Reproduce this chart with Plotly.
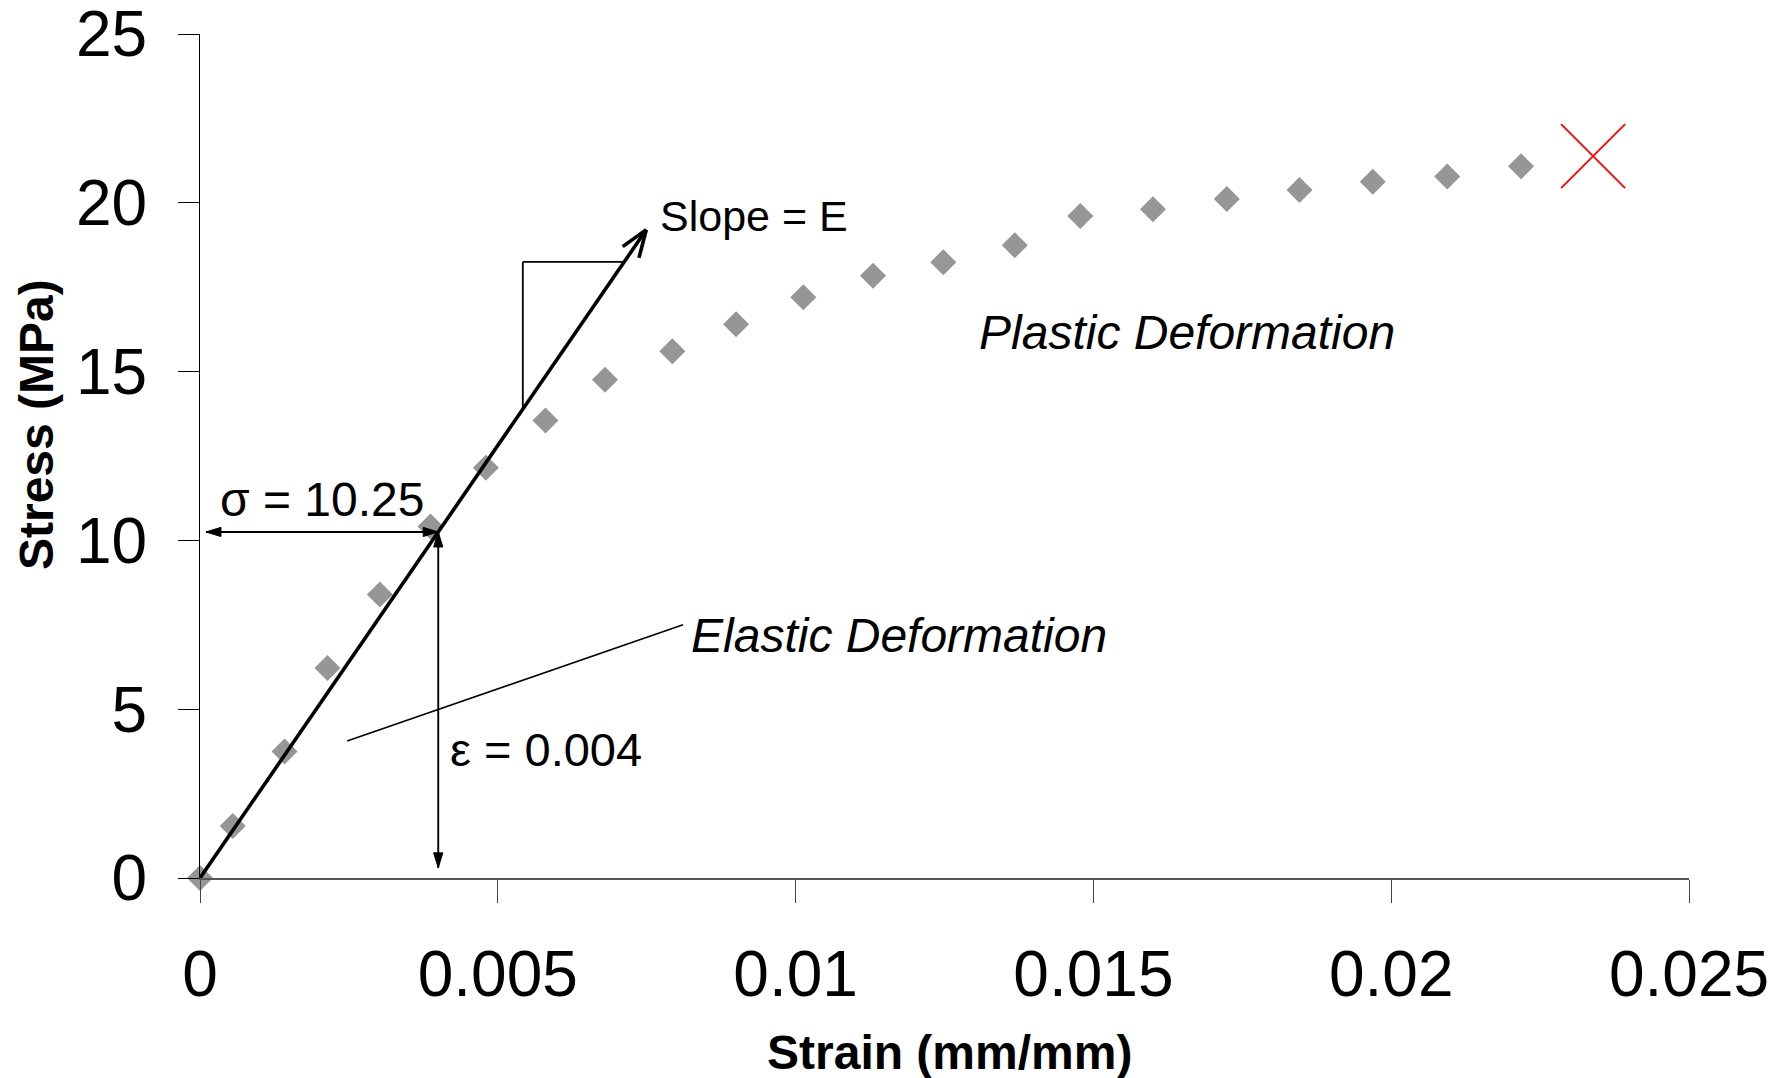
import math
import plotly.graph_objects as go

# ---- data -------------------------------------------------------------
strain = [0.0, 0.00055, 0.00142, 0.00214, 0.00302, 0.00387, 0.0048, 0.0058,
          0.0068, 0.00793, 0.0090, 0.01013, 0.0113, 0.01248, 0.01368, 0.01478,
          0.0160, 0.01724, 0.01846, 0.01969, 0.02094, 0.02218]
stress = [0.0, 1.54, 3.75, 6.22, 8.40, 10.41, 12.15, 13.55, 14.76, 15.6,
          16.4, 17.2, 17.84, 18.24, 18.74, 19.61, 19.81, 20.11, 20.38, 20.62,
          20.78, 21.08]
fracture_strain = [0.02339]
fracture_stress = [21.38]

x_ticks = [0, 0.005, 0.01, 0.015, 0.02, 0.025]
x_ticktext = ["0", "0.005", "0.01", "0.015", "0.02", "0.025"]
y_ticks = [0, 5, 10, 15, 20, 25]

eps_point = 0.004      # strain read at the marked point
sigma_point = 10.25    # stress read at the marked point
modulus = sigma_point / eps_point

# ---- layout geometry ----------------------------------------------------
W, H = 1771, 1078
M = dict(l=200, r=82, t=34, b=200)
X_MAX, Y_MAX = 0.025, 25
plot_w = W - M["l"] - M["r"]
plot_h = H - M["t"] - M["b"]
px_x = plot_w / X_MAX
px_y = plot_h / Y_MAX

FONT = "Liberation Sans, Arial, Helvetica, sans-serif"

fig = go.Figure()

fig.add_trace(go.Scatter(
    x=strain, y=stress, mode="markers",
    marker=dict(symbol="diamond", size=20, color="#969696"),
    cliponaxis=False, showlegend=False, hoverinfo="skip"))

fig.add_trace(go.Scatter(
    x=fracture_strain, y=fracture_stress, mode="markers",
    marker=dict(symbol="x-thin", size=64, color="red",
                line=dict(color="red", width=1.8)),
    cliponaxis=False, showlegend=False, hoverinfo="skip"))


def unit_px(x0, y0, x1, y1):
    """Unit direction from (x0, y0) to (x1, y1) measured in screen pixels."""
    dx, dy = (x1 - x0) * px_x, (y1 - y0) * px_y
    n = math.hypot(dx, dy)
    return dx / n, dy / n


def offset(x, y, ux, uy, dist, side=0.0):
    """Point moved `dist` px along (ux, uy) and `side` px across it."""
    px, py = ux * dist - uy * side, uy * dist + ux * side
    return x + px / px_x, y + py / px_y


def line(x0, y0, x1, y1, width, color="black"):
    fig.add_shape(type="line", xref="x", yref="y", x0=x0, y0=y0, x1=x1,
                  y1=y1, line=dict(color=color, width=width))


def solid_head(xt, yt, ux, uy, length=15, half=4.6):
    """Filled triangular arrow head with its tip at (xt, yt)."""
    bx, by = offset(xt, yt, ux, uy, -length)
    p1 = offset(bx, by, ux, uy, 0, half)
    p2 = offset(bx, by, ux, uy, 0, -half)
    fig.add_shape(type="path", xref="x", yref="y",
                  path=f"M{xt},{yt} L{p1[0]},{p1[1]} L{p2[0]},{p2[1]} Z",
                  fillcolor="black", line=dict(color="black", width=1))


def double_arrow(xa, ya, xb, yb):
    ux, uy = unit_px(xa, ya, xb, yb)
    line(xa, ya, xb, yb, 1.9)
    solid_head(xb, yb, ux, uy)
    solid_head(xa, ya, -ux, -uy)


# ---- modulus line with open arrow head -----------------------------------
tip_stress = 19.2
tip_strain = tip_stress / modulus
line(0, 0, tip_strain, tip_stress, 3.6)
ux, uy = unit_px(0, 0, tip_strain, tip_stress)
head_len, head_ang = 29, math.radians(20)
for s in (1, -1):
    c, sn = math.cos(s * head_ang), math.sin(s * head_ang)
    rx, ry = -ux * c + uy * sn, -ux * sn - uy * c
    line(tip_strain, tip_stress,
         tip_strain + head_len * rx / px_x, tip_stress + head_len * ry / px_y,
         3.6)

# slope triangle
tri_x = 0.00542
tri_top = 18.25
line(tri_x, modulus * tri_x, tri_x, tri_top, 1.8)
line(tri_x, tri_top, tri_top / modulus, tri_top, 1.8)

# leader line to the elastic label
line(0.00247, 4.06, 0.00811, 7.5, 1.6)

# ---- double arrows for sigma and epsilon --------------------------------
double_arrow(0.0001, sigma_point, eps_point, sigma_point)
double_arrow(eps_point, 0.3, eps_point, sigma_point)

# ---- text labels ---------------------------------------------------------
def label(x, y, text, size, italic=False):
    fig.add_annotation(x=x, y=y, xref="x", yref="y", text=text,
                       showarrow=False, xanchor="left", yanchor="middle",
                       font=dict(family=FONT, size=size, color="black",
                                 style="italic" if italic else "normal"))

label(tip_strain + 0.0002, 19.6, "Slope = E", 43)
label(0.0003, 11.2, "σ = 10.25", 48)
label(0.00416, 3.82, "ε = 0.004", 47)
label(0.00821, 7.17, "Elastic Deformation", 48, italic=True)
label(0.01305, 16.17, "Plastic Deformation", 48, italic=True)

# axis titles
fig.add_annotation(x=(949 - M["l"]) / plot_w, y=(H - M["b"] - 1052) / plot_h,
                   xref="paper", yref="paper",
                   text="<b>Strain (mm/mm)</b>", showarrow=False,
                   xanchor="center", yanchor="middle",
                   font=dict(family=FONT, size=48, color="black"))
fig.add_annotation(x=(36 - M["l"]) / plot_w, y=(H - M["b"] - 425) / plot_h,
                   xref="paper", yref="paper",
                   text="<b>Stress (MPa)</b>", showarrow=False, textangle=-90,
                   xanchor="center", yanchor="middle",
                   font=dict(family=FONT, size=48, color="black"))

fig.update_layout(
    width=W, height=H, margin=M,
    paper_bgcolor="white", plot_bgcolor="white",
    font=dict(family=FONT, color="black"),
    xaxis=dict(range=[0, X_MAX], tickvals=x_ticks, ticktext=x_ticktext,
               showgrid=False, zeroline=False, showline=True,
               linecolor="#555555", linewidth=2, ticks="outside",
               ticklen=23, tickwidth=1, tickcolor="#444444",
               ticklabelstandoff=16, ticklabeloverflow="allow",
               tickfont=dict(size=64), automargin=False),
    yaxis=dict(range=[0, Y_MAX], tickvals=y_ticks,
               showgrid=False, zeroline=False, showline=True,
               linecolor="black", linewidth=1.2, ticks="outside",
               ticklen=21, tickwidth=1, tickcolor="black",
               ticklabelstandoff=18, ticklabeloverflow="allow",
               tickfont=dict(size=64), automargin=False),
)

fig.write_html("out.html")
